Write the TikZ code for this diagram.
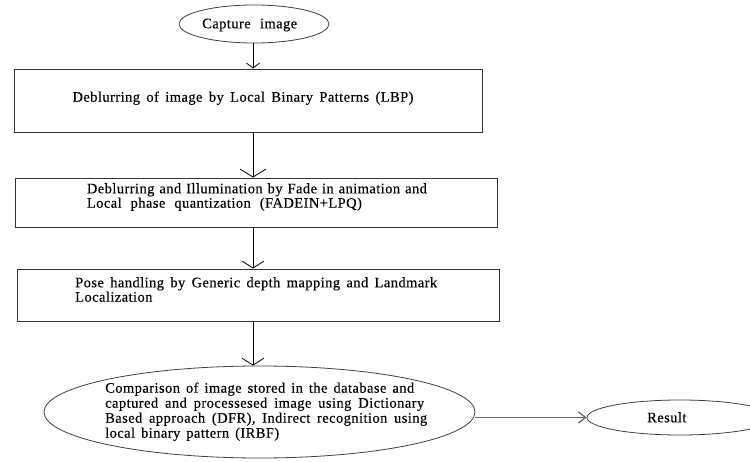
\documentclass[tikz,border=0pt]{standalone}
\usepackage{fontspec}
\setmainfont{Liberation Serif}[LetterSpace=3,FakeBold=0.3]
\usetikzlibrary{shapes.geometric,arrows.meta}
\newcommand{\fitline}[2]{\makebox[#1][s]{#2}}
\begin{document}
\begin{tikzpicture}[x=1pt,y=-1pt,
  box/.style={draw=black!80, line width=0.9pt, rectangle, inner sep=0pt},
  oval/.style={draw=black!75, line width=0.8pt, ellipse, inner sep=0pt},
  txt/.style={anchor=base west, inner sep=0pt, text=black,
    font=\fontsize{14.5}{15}\selectfont},
  arr/.style={draw=black, line width=0.8pt},
  tipA/.style={-{Straight Barb[length=5pt,width=13pt]}},
  tipB/.style={-{Straight Barb[length=8pt,width=26pt]}},
  tipC/.style={-{Straight Barb[length=7pt,width=22pt]}},
  tipD/.style={-{Straight Barb[length=7pt,width=11pt]}}
]
\useasboundingbox (0,0) rectangle (750,462);
\clip (0,0) rectangle (750,462);

% shapes
\node[oval, minimum width=150pt, minimum height=38pt] (cap) at (254,24) {};
\node[box, minimum width=468pt, minimum height=63pt] (b1) at (248,100.5) {};
\node[box, minimum width=482pt, minimum height=49pt] (b2) at (256,202.5) {};
\node[box, minimum width=482pt, minimum height=52pt] (b3) at (258,295) {};
\node[oval, minimum width=431pt, minimum height=92pt] (cmp) at (259.5,412) {};
\node[oval, minimum width=186pt, minimum height=35pt] (res) at (680,417.5) {};

% texts
\node[txt] (tcap) at (202,28.3) {\fitline{95pt}{Capture image}};
\node[txt] (t1) at (72.3,101.7) {\fitline{341pt}{Deblurring of image by Local Binary Patterns (LBP)}};
\node[txt] (t2a) at (86.7,193.3) {\fitline{340pt}{Deblurring and Illumination by Fade in animation and}};
\node[txt] (t2b) at (86.7,207.7) {\fitline{275pt}{Local phase quantization (FADEIN+LPQ)}};
\node[txt] (t3a) at (75,287.3) {\fitline{362pt}{Pose handling by Generic depth mapping and Landmark}};
\node[txt] (t3b) at (75,301.7) {Localization};
\node[txt] (t4a) at (105,392.7) {\fitline{309pt}{Comparison of image stored in the database and}};
\node[txt] (t4b) at (105,407.7) {\fitline{319pt}{captured and processesed image using Dictionary}};
\node[txt] (t4c) at (105,422.7) {\fitline{322pt}{Based approach (DFR), Indirect recognition using}};
\node[txt] (t4d) at (105,437.7) {\fitline{174pt}{local binary pattern (IRBF)}};
\node[txt] (tres) at (647,422.3) {Result};

% connectors
\coordinate (ax) at (253,0);
\draw[arr,tipA] (cap.south -| ax) -- (b1.north -| ax);
\draw[arr,tipB] (b1.south -| ax) -- (b2.north -| ax);
\draw[arr,tipC] (b2.south -| ax) -- (b3.north -| ax);
\draw[arr,tipC] (b3.south -| ax) -- (cmp.north -| ax);
\draw[arr,tipD,draw=black!60,line width=1.3pt] (res.west -| cmp.east) -- (res.west);
\end{tikzpicture}
\end{document}
